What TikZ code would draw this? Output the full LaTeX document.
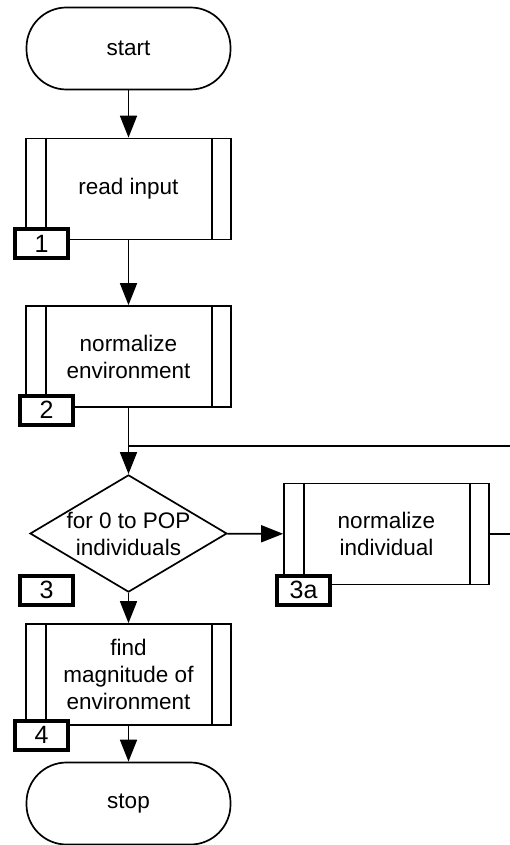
\documentclass[tikz,border=0pt]{standalone}
\usepackage{fontspec}
\setmainfont{Liberation Sans}
\usetikzlibrary{shapes.geometric,arrows.meta}

\begin{document}
\begin{tikzpicture}[x=1pt,y=-1pt,line width=1.7pt,
  font=\fontsize{22.5}{27}\selectfont,
  term/.style={draw, rectangle, rounded corners=40pt, minimum width=204pt, minimum height=82pt, inner sep=0pt},
  proc/.style={draw, rectangle, minimum width=205pt, minimum height=101pt, inner sep=0pt, align=center},
  decide/.style={draw, diamond, aspect=1.68, inner sep=0pt, align=center},
  tag/.style={draw, fill=white, line width=4pt, minimum width=53pt, minimum height=29pt, inner sep=0pt, font=\fontsize{25}{28}\selectfont},
  flow/.style={-{Triangle[length=22pt,width=17pt]}}]
\useasboundingbox (0,0) rectangle (509,845);
\node [term] (start) at (128.5,48.5) {start};
\node [proc] (read) at (128.5,189) {read input};
\node [proc] (normenv) at (128.5,356.5) {normalize\\environment};
\node [decide] (loop) at (128.5,533.5) {for 0 to POP\\individuals};
\node [proc] (normind) at (386.5,534) {normalize\\individual};
\node [proc] (find) at (128.5,674.5) {find\\magnitude of\\environment};
\node [term] (stop) at (128.5,803.5) {stop};
% double side lines of the process boxes
\foreach \n in {read,normenv,normind,find}
  \draw ([xshift=21pt]\n.north west) -- ([xshift=21pt]\n.south west)
        ([xshift=-20pt]\n.north east) -- ([xshift=-20pt]\n.south east);
\draw [flow] (start) -- (read);
\draw [flow] (read) -- (normenv);
\draw [flow] (normenv) -- (loop);
\draw [flow] (loop) -- (normind);
\draw [flow] (loop) -- (find);
\draw [flow] (find) -- (stop);
\coordinate (back) at (530,446);
\draw (normind.east) -| (back) -- (normenv.south |- back);
\node [tag] (tag1) at (41.5,243.5) {1};
\node [tag] (tag2) at (46.5,410) {2};
\node [tag] (tag3) at (46.5,590) {3};
\node [tag] (tag3a) at (303.5,590) {3a};
\node [tag] (tag4) at (41.5,735) {4};
\end{tikzpicture}
\end{document}
